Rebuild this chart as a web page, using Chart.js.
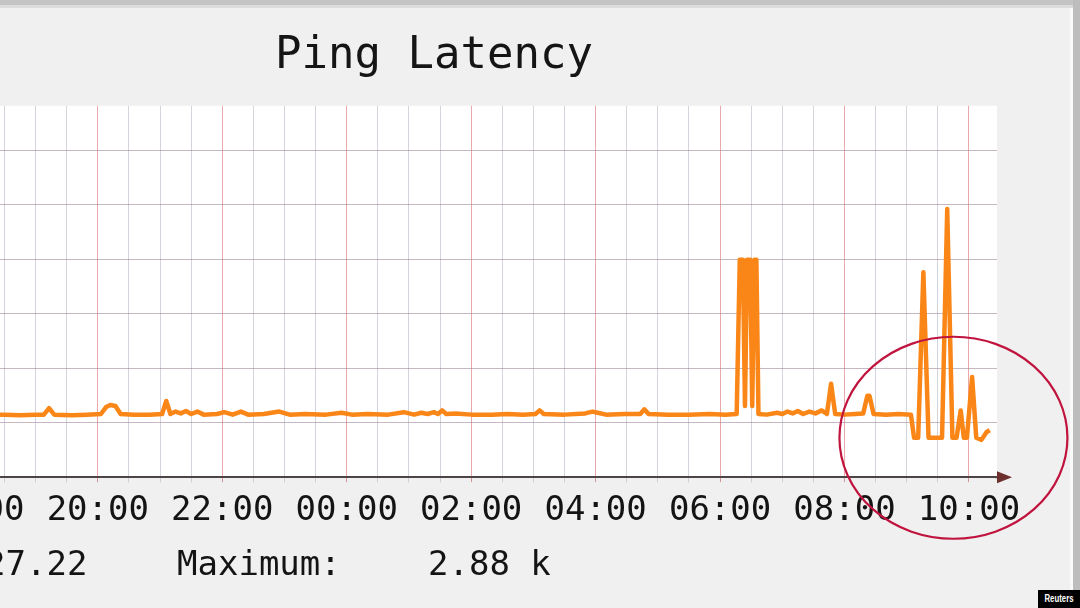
<!DOCTYPE html>
<html>
<head>
<meta charset="utf-8">
<title>Ping Latency</title>
<script src="https://cdn.jsdelivr.net/npm/chart.js@4.4.1/dist/chart.umd.min.js"></script>
<style>
  html, body { margin: 0; padding: 0; }
  body {
    width: 1080px; height: 608px; overflow: hidden; position: relative;
    background: #f0f0f0; font-family: 'DejaVu Sans Mono', monospace; color: #141414;
  }
  #wrap { position: absolute; left: -129px; top: 0; width: 1209px; height: 608px; }
  .stat { position: absolute; top: 543px; font-size: 34px; line-height: 40px; white-space: pre; }
  #topband { position: absolute; left: 0; top: 0; width: 1080px; height: 5px; background: #c4c4c4; }
  #topline { position: absolute; left: 0; top: 5px; width: 1080px; height: 3px; background: #dcdcdc; }
  #rightband { position: absolute; left: 1073px; top: 0; width: 7px; height: 590px; background: #bdbdbd; }
  #rightline { position: absolute; left: 1070px; top: 8px; width: 3px; height: 582px; background: #f9f9f9; }
  #credit {
    position: absolute; left: 1038px; top: 590px; width: 42px; height: 18px; background: #000;
    overflow: hidden;
  }
  #credit span {
    display: block; color: #fff; font: bold 10px 'Liberation Sans', sans-serif;
    line-height: 18px; text-align: center; transform: scaleX(0.78); transform-origin: 50% 50%;
    margin-left: -6px; margin-right: -6px;
  }
</style>
</head>
<body>
<div id="wrap"><canvas id="myChart" width="1209" height="608"></canvas></div>
<div id="topband"></div>
<div id="topline"></div>
<div id="rightline"></div>
<div id="rightband"></div>
<div class="stat" style="left:-15px">27.22</div>
<div class="stat" style="left:177px">Maximum:</div>
<div class="stat" style="left:428px">2.88 k</div>
<div id="credit"><span>Reuters</span></div>
<script>
// sample times (clock time, the graph runs from evening to next morning)
const times = [
  '16:20', '18:20', '18:30', '18:45', '19:00', '19:08', '19:13', '19:18', '19:35', '19:50',
  '20:03', '20:08', '20:12', '20:17', '20:22', '20:35', '20:50', '21:02', '21:06', '21:10',
  '21:15', '21:20', '21:25', '21:30', '21:36', '21:42', '21:55', '22:02', '22:10', '22:18',
  '22:25', '22:40', '22:55', '23:05', '23:20', '23:40', '23:55', '00:05', '00:20', '00:40',
  '00:55', '01:05', '01:12', '01:18', '01:24', '01:28', '01:32', '01:36', '01:45', '02:00',
  '02:20', '02:35', '02:50', '03:02', '03:06', '03:10', '03:30', '03:50', '03:57', '04:02',
  '04:10', '04:28', '04:43', '04:47', '04:51', '05:10', '05:30', '05:50', '06:05', '06:16',
  '06:19', '06:22', '06:24', '06:26', '06:29', '06:31', '06:33', '06:35', '06:37',
  '06:45', '06:55', '07:00', '07:05',
  '07:10', '07:15', '07:20', '07:26', '07:32', '07:38', '07:43', '07:47', '07:51', '08:00',
  '08:10', '08:18', '08:22', '08:24', '08:28', '08:40', '08:52', '09:04', '09:07', '09:11',
  '09:16', '09:21', '09:29', '09:34', '09:39', '09:44', '09:48', '09:52', '09:55', '09:58',
  '10:03', '10:07', '10:12', '10:17', '10:20'
];
// latency in ms
const latency = [
  37.5, 37.5, 37.5, 37, 37.5, 37.5, 43, 37.5, 37, 37.5,
  38, 44, 46, 45, 38, 37.5, 37.5, 38, 50, 38,
  40, 38.5, 40.5, 38, 40, 37.5, 38, 39.5, 37.5, 40,
  37.5, 38, 40, 37.5, 38, 37.5, 39, 37.5, 38, 37.5,
  39.5, 37.5, 39, 38, 39.5, 38, 41, 38, 38.5, 37.5,
  37.5, 38, 37.5, 38, 41, 38, 37.5, 38.5, 40, 39,
  37.5, 38, 38, 42, 38, 37.5, 37.5, 38, 37.5, 38,
  990, 990, 45, 990, 990, 45, 990, 990, 38,
  37.5, 39, 38, 40,
  38.5, 40.5, 38, 40, 38.5, 41, 38, 72, 38, 37.5,
  38, 38.5, 56, 56, 38, 37.5, 38, 37.5, 23, 23,
  760, 23, 23, 23, 2880, 23, 23, 41, 23, 23,
  83, 23, 22, 26, 27
];

const xTickLabels = ['18:00', '20:00', '22:00', '00:00', '02:00', '04:00', '06:00', '08:00', '10:00'];
const yGridValues = [10, 31.62, 100, 316.2, 1000, 3162, 10000];
const xGridStep = 30; // minutes between vertical grid lines

// minutes after 18:00
function toMinutes(t) {
  const [h, m] = t.split(':').map(Number);
  let mins = h * 60 + m - 18 * 60;
  if (mins < -360) mins += 1440;
  return mins;
}

const points = times.map((t, i) => ({ x: toMinutes(t), y: latency[i] }));

const rrdFrame = {
  id: 'rrdFrame',
  beforeDraw(chart) {
    const { ctx, chartArea: a } = chart;
    ctx.save();
    ctx.fillStyle = '#ffffff';
    ctx.fillRect(a.left, a.top, a.right - a.left, a.bottom - a.top);
    ctx.restore();
  },
  afterDraw(chart) {
    const { ctx, chartArea: a, scales } = chart;
    ctx.save();
    // axis arrow
    ctx.strokeStyle = '#4d4545';
    ctx.lineWidth = 2;
    ctx.beginPath();
    ctx.moveTo(a.right - 2, a.bottom);
    ctx.lineTo(a.right + 6, a.bottom);
    ctx.stroke();
    ctx.fillStyle = '#6d2e2e';
    ctx.beginPath();
    ctx.moveTo(a.right, a.bottom - 6);
    ctx.lineTo(a.right + 15, a.bottom);
    ctx.lineTo(a.right, a.bottom + 6);
    ctx.closePath();
    ctx.fill();
    // red circle marking the morning spikes
    const cx = scales.x.getPixelForValue(toMinutes('09:45'));
    const cy = scales.y.getPixelForValue(23);
    ctx.strokeStyle = '#c0143e';
    ctx.lineWidth = 2.2;
    ctx.beginPath();
    ctx.ellipse(cx, cy, 114, 101, 0, 0, Math.PI * 2);
    ctx.stroke();
    ctx.restore();
  }
};

const ctx = document.getElementById('myChart').getContext('2d');
const chart = new Chart(ctx, {
  type: 'line',
  data: {
    datasets: [
      {
        label: 'Ping Latency',
        data: points,
        borderColor: '#fa8618',
        borderWidth: 4.5,
        borderJoinStyle: 'round',
        pointRadius: 0,
        tension: 0,
        fill: false
      }
    ]
  },
  options: {
    responsive: false,
    animation: false,
    devicePixelRatio: 1,
    layout: { padding: { left: 0, right: 83, top: 0, bottom: 67 } },
    plugins: {
      legend: { display: false },
      tooltip: { enabled: false },
      title: {
        display: true,
        text: 'Ping Latency',
        color: '#151515',
        font: { family: 'DejaVu Sans Mono', size: 44, weight: 'normal', lineHeight: 1.2 },
        padding: { top: 30, bottom: 23 }
      }
    },
    scales: {
      x: {
        type: 'linear',
        min: -94,
        max: 987,
        afterBuildTicks: scale => {
          const ticks = [];
          for (let v = -90; v <= scale.max; v += xGridStep) ticks.push({ value: v });
          scale.ticks = ticks;
        },
        grid: {
          color: c => (c.tick && c.tick.value % 120 === 0 ? 'rgba(222,110,115,0.6)' : 'rgba(170,170,185,0.5)'),
          tickColor: c => (c.tick && c.tick.value % 120 === 0 ? 'rgba(200,110,110,0.7)' : 'rgba(170,170,185,0.5)'),
          lineWidth: 1,
          drawTicks: true,
          tickLength: 5
        },
        border: { display: true, color: '#4d4545', width: 2 },
        ticks: {
          autoSkip: false,
          maxRotation: 0,
          padding: 9,
          color: '#141414',
          font: { family: 'DejaVu Sans Mono', size: 34, lineHeight: 1.2 },
          callback: v => xTickLabels.find(l => toMinutes(l) === v) || ''
        }
      },
      y: {
        type: 'logarithmic',
        min: 10,
        max: 25540,
        afterBuildTicks: scale => {
          scale.ticks = yGridValues.map(v => ({ value: v }));
        },
        grid: { color: 'rgba(150,125,145,0.55)', lineWidth: 1, drawTicks: false },
        border: { display: false },
        ticks: { display: false }
      }
    }
  },
  plugins: [rrdFrame]
});
</script>
</body>
</html>
